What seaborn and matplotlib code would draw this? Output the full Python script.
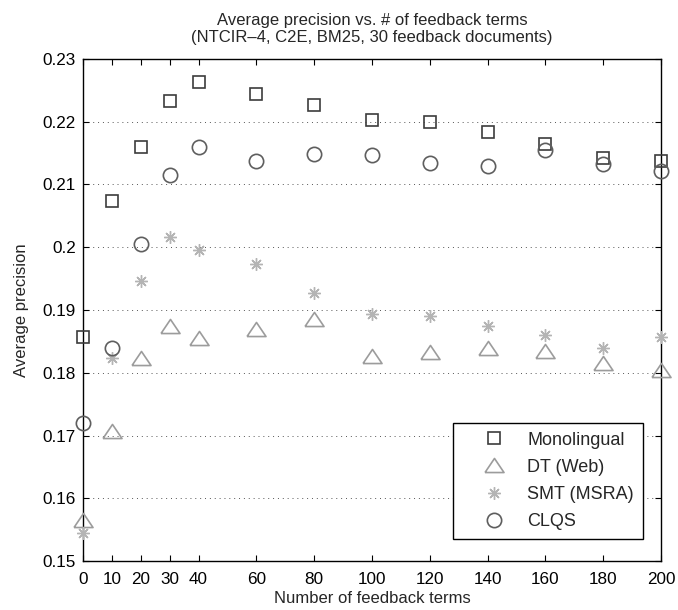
import numpy as np
import pandas as pd
import matplotlib
matplotlib.use("Agg")
import matplotlib.pyplot as plt
import seaborn as sns

# Data
terms = [0, 10, 20, 30, 40, 60, 80, 100, 120, 140, 160, 180, 200]
monolingual = [0.1857, 0.2073, 0.2160, 0.2233, 0.2264, 0.2244, 0.2226,
               0.2203, 0.2200, 0.2183, 0.2164, 0.2142, 0.2138]
dt_web = [0.1566, 0.1707, 0.1823, 0.1874, 0.1855, 0.1870, 0.1885,
          0.1827, 0.1833, 0.1839, 0.1834, 0.1816, 0.1804]
smt_msra = [0.1545, 0.1823, 0.1947, 0.2017, 0.1995, 0.1973, 0.1927,
            0.1893, 0.1890, 0.1875, 0.1860, 0.1840, 0.1857]
clqs = [0.1720, 0.1840, 0.2005, 0.2115, 0.2160, 0.2137, 0.2149,
        0.2147, 0.2134, 0.2130, 0.2155, 0.2132, 0.2121]

series_names = ["Monolingual", "DT (Web)", "SMT (MSRA)", "CLQS"]
y_ticks = [0.15, 0.16, 0.17, 0.18, 0.19, 0.20, 0.21, 0.22, 0.23]
y_tick_labels = ["0.15", "0.16", "0.17", "0.18", "0.19", "0.2", "0.21", "0.22", "0.23"]

sns.set_style("ticks")
plt.rcParams['font.family'] = ['Liberation Sans', 'DejaVu Sans']

df = pd.DataFrame({
    "terms": terms * 4,
    "precision": monolingual + dt_web + smt_msra + clqs,
    "method": sum([[n] * len(terms) for n in series_names], []),
})

# wide MATLAB-style triangle (width 1, height ~0.74 of marker size)
tri = [(-1, -0.74), (1, -0.74), (0, 0.74), (-1, -0.74)]
styles = {
    "Monolingual": dict(marker="s", ms=9.2, mew=1.2, color="#3c3c3c"),
    "DT (Web)": dict(marker=tri, ms=13.7, mew=1.2, color="#9c9c9c"),
    "SMT (MSRA)": dict(marker=(8, 2, 0), ms=9.0, mew=1.0, color="#b4b4b4"),
    "CLQS": dict(marker="o", ms=10.3, mew=1.2, color="#5e5e5e"),
}

fig = plt.figure(figsize=(6.78, 6.10), dpi=100)
ax = fig.add_axes([0.1224, 0.0803, 0.8525, 0.823])

for name in series_names:
    st = styles[name]
    sub = df[df["method"] == name]
    sns.lineplot(data=sub, x="terms", y="precision", ax=ax,
                 linestyle="", marker=st["marker"], markersize=st["ms"],
                 markerfacecolor="none", markeredgecolor=st["color"],
                 markeredgewidth=st["mew"], color=st["color"], label=name,
                 zorder=3, clip_on=False)

ax.set_xlim(0, 200)
ax.set_ylim(0.15, 0.23)
ax.set_xticks(terms)
ax.set_yticks(y_ticks)
ax.set_yticklabels(y_tick_labels)
ax.tick_params(direction="in", top=True, right=True, length=4,
               labelsize=12.3, colors="black", width=0.8)
ax.tick_params(axis="x", pad=8)
ax.tick_params(axis="y", pad=5)
ax.yaxis.grid(True, linestyle=(0, (1, 4)), color="#555555", linewidth=0.7)
ax.xaxis.grid(False)
for sp in ax.spines.values():
    sp.set_color("black")
    sp.set_linewidth(1.0)

ax.set_title("Average precision vs. # of feedback terms\n"
             "(NTCIR\u20134, C2E, BM25, 30 feedback documents)",
             fontsize=12, pad=12)
ax.set_xlabel("Number of feedback terms", fontsize=12, labelpad=3)
ax.set_ylabel("Average precision", fontsize=12, labelpad=10)

leg = ax.legend(loc="lower right", bbox_to_anchor=(1 - 18 / 578, 22 / 502),
                borderaxespad=0, fontsize=13, frameon=True, fancybox=False,
                edgecolor="black", framealpha=1, handletextpad=0.1,
                borderpad=0.5, labelspacing=0.56, handlelength=3.5,
                numpoints=1)
leg.get_frame().set_linewidth(1.0)

fig.savefig("out.png", dpi=100)
